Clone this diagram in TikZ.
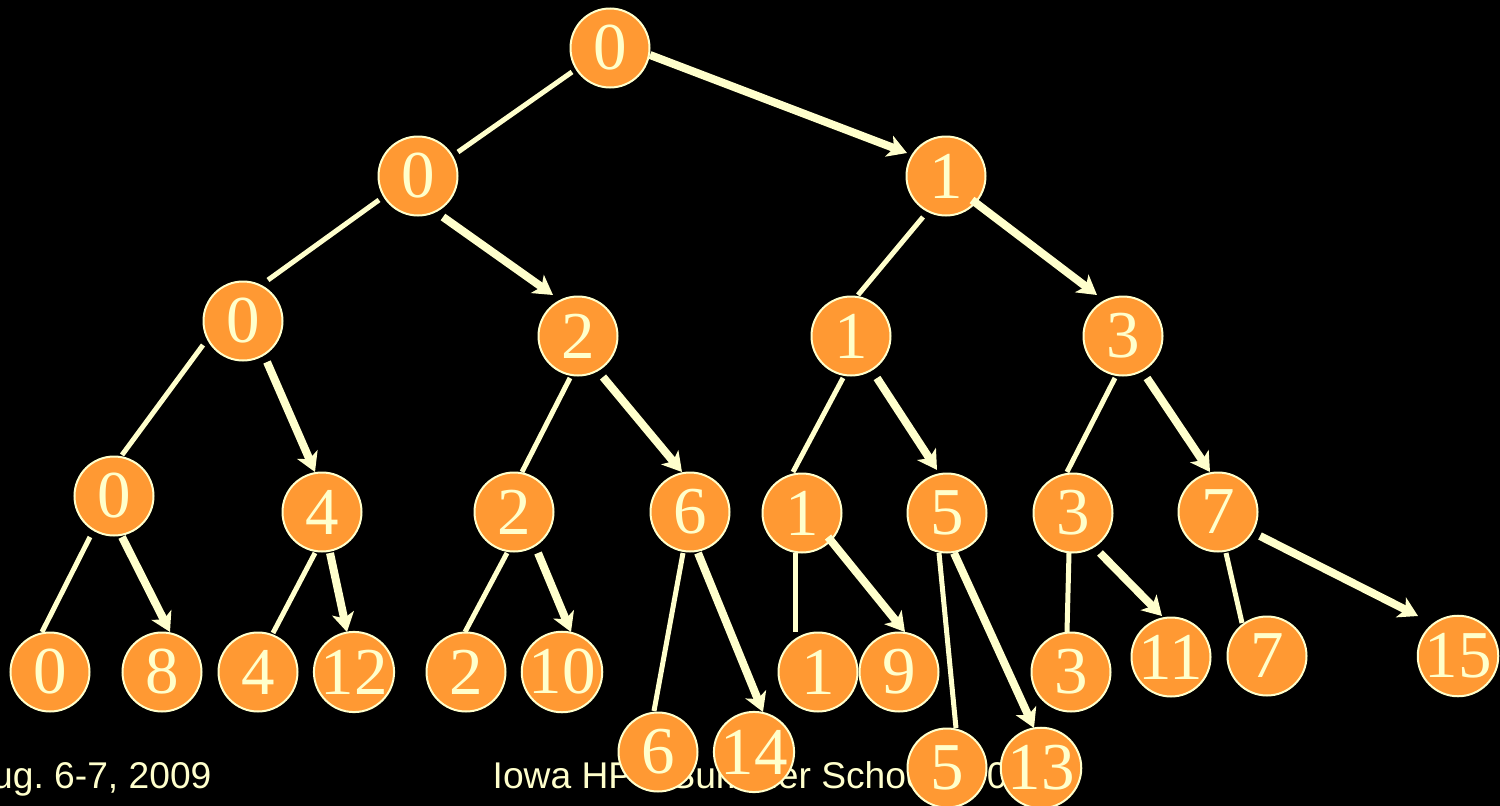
\documentclass[tikz,border=0pt]{standalone}
\usepackage{fontspec}
\setmainfont{Liberation Serif}
\newfontfamily\footfont{Liberation Sans}
\usetikzlibrary{arrows.meta,calc}
\definecolor{nodeorange}{HTML}{FF9933}
\definecolor{paleyellow}{HTML}{FFFFCC}
\frenchspacing
\begin{document}
\begin{tikzpicture}[x=1pt,y=-1pt,
  tnode/.style={circle,fill=nodeorange,draw=paleyellow,line width=2pt,minimum size=79pt,inner sep=0pt,text=paleyellow,font=\fontsize{67}{67}\selectfont},
  leftedge/.style={draw=paleyellow,line width=5pt},
  rightedge/.style={draw=paleyellow,line width=8pt,-{Stealth[length=19pt,width=22pt,inset=5pt]}},
  foot/.style={anchor=base west,inner sep=0pt,text=paleyellow,font=\footfont\fontsize{37.2}{38}\selectfont}]
\fill[black] (0,0) rectangle (1500,806);
\useasboundingbox (0,0) rectangle (1500,806);
% footer
\node[foot] (f1) at (-8,788) {ug. 6-7, 2009};
\node[foot] (f2) at (492.5,788) {Iowa HPC Summer School 2009};
% nodes
\node[tnode] (A) at (610,48) {0};
\node[tnode] (B) at (418,176) {0};
\node[tnode] (C) at (946,176) {1};
\node[tnode] (D) at (243,321) {0};
\node[tnode] (E) at (578,336) {2};
\node[tnode] (F) at (851,336) {1};
\node[tnode] (G) at (1123,336) {3};
\node[tnode] (H) at (114,496) {0};
\node[tnode] (I) at (322,512) {4};
\node[tnode] (J) at (514,512) {2};
\node[tnode] (K) at (690,512) {6};
\node[tnode] (L) at (802,513) {1};
\node[tnode] (M) at (947,513) {5};
\node[tnode] (N) at (1073,513) {3};
\node[tnode] (O) at (1218,512) {7};
\node[tnode] (P) at (50,672) {0};
\node[tnode] (Q) at (162,672) {8};
\node[tnode] (R) at (258,672) {4};
\node[tnode] (S) at (354,672) {12};
\node[tnode] (T) at (466,672) {2};
\node[tnode] (U) at (562,672) {10};
\node[tnode] (V) at (658,752) {6};
\node[tnode] (W) at (754,752) {14};
\node[tnode] (X) at (818,672) {1};
\node[tnode] (Y) at (899,672) {9};
\node[tnode] (Z) at (947,768) {5};
\node[tnode] (AA) at (1041,768) {13};
\node[tnode] (AB) at (1071,672) {3};
\node[tnode] (AC) at (1171,657) {11};
\node[tnode] (AD) at (1267,656) {7};
\node[tnode] (AE) at (1458,656) {15};
% edges
\draw[leftedge] ($(A)+(-38,24)$) -- ($(B)+(40,-24)$);
\draw[rightedge] ($(A)+(40,7)$) -- ($(C)+(-39,-23)$);
\draw[leftedge] ($(B)+(-39,24)$) -- ($(D)+(25,-41)$);
\draw[rightedge] ($(B)+(25,41)$) -- ($(E)+(-25,-41)$);
\draw[leftedge] ($(C)+(-23,41)$) -- ($(F)+(7,-41)$);
\draw[rightedge] ($(C)+(26,24)$) -- ($(G)+(-26,-41)$);
\draw[leftedge] ($(D)+(-40,24)$) -- ($(H)+(8,-41)$);
\draw[rightedge] ($(D)+(24,41)$) -- ($(I)+(-7,-40)$);
\draw[leftedge] ($(E)+(-8,42)$) -- ($(J)+(8,-40)$);
\draw[rightedge] ($(E)+(25,41)$) -- ($(K)+(-8,-40)$);
\draw[leftedge] ($(F)+(-8,42)$) -- ($(L)+(-9,-41)$);
\draw[rightedge] ($(F)+(26,42)$) -- ($(M)+(-10,-43)$);
\draw[leftedge] ($(G)+(-8,42)$) -- ($(N)+(-6,-41)$);
\draw[rightedge] ($(G)+(24,42)$) -- ($(O)+(-8,-40)$);
\draw[leftedge] ($(H)+(-24,41)$) -- ($(P)+(-8,-40)$);
\draw[rightedge] ($(H)+(8,41)$) -- ($(Q)+(8,-40)$);
\draw[leftedge] ($(I)+(-7,41)$) -- ($(R)+(15,-39)$);
\draw[rightedge] ($(I)+(8,41)$) -- ($(S)+(-7,-40)$);
\draw[leftedge] ($(J)+(-7,41)$) -- ($(T)+(-1,-40)$);
\draw[rightedge] ($(J)+(24,41)$) -- ($(U)+(9,-40)$);
\draw[leftedge] ($(K)+(-7,41)$) -- ($(V)+(-4,-41)$);
\draw[rightedge] ($(K)+(8,41)$) -- ($(W)+(9,-40)$);
\draw[leftedge] ($(L)+(-7,40)$) -- ($(X)+(-23,-40)$);
\draw[rightedge] ($(L)+(26,24)$) -- ($(Y)+(6,-40)$);
\draw[leftedge] ($(M)+(-8,40)$) -- ($(Z)+(9,-40)$);
\draw[rightedge] ($(M)+(7,40)$) -- ($(AA)+(-7,-40)$);
\draw[leftedge] ($(N)+(-4,40)$) -- ($(AB)+(-4,-40)$);
\draw[rightedge] ($(N)+(27,40)$) -- ($(AC)+(-9,-41)$);
\draw[leftedge] ($(O)+(8,41)$) -- ($(AD)+(-25,-33)$);
\draw[rightedge] ($(O)+(42,24)$) -- ($(AE)+(-40,-40)$);
\end{tikzpicture}
\end{document}
